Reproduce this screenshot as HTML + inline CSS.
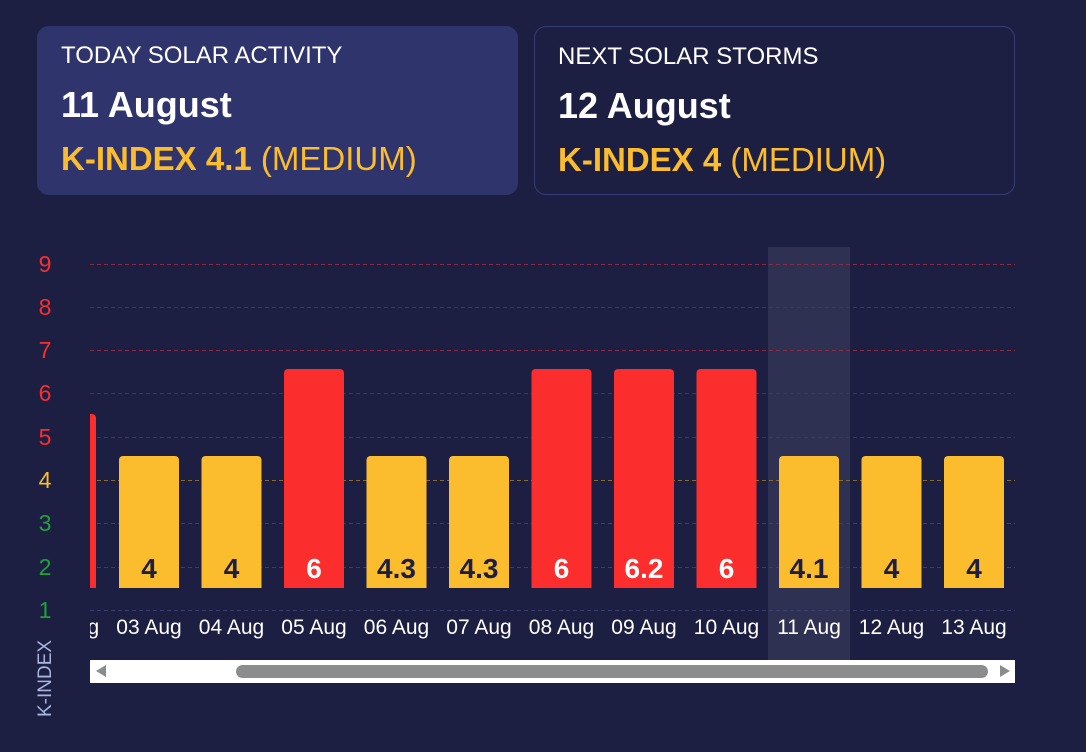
<!DOCTYPE html>
<html><head><meta charset="utf-8"><style>
body{margin:0;width:1086px;height:752px;background:#1d1f42;font-family:"Liberation Sans",Arial,sans-serif;overflow:hidden;position:relative}
.card{position:absolute;top:26px;width:481px;height:169px;border-radius:12px;box-sizing:border-box}
.c1{left:37px;background:#2f346c}
.c2{left:534px;width:481px;border:1px solid #363b74}
.t{position:absolute;left:24px;top:16px;color:#fff;font-size:24px;line-height:28px}
.d{position:absolute;left:24px;top:58px;color:#fff;font-size:36px;line-height:42px;font-weight:bold}
.k{position:absolute;left:24px;top:113px;color:#fbbd2e;font-size:33px;line-height:40px}
.k b{font-weight:bold}
</style></head><body>
<div class="card c1"><div class="t">TODAY SOLAR ACTIVITY</div><div class="d">11 August</div><div class="k"><b>K-INDEX 4.1</b> (MEDIUM)</div></div>
<div class="card c2"><div class="t" style="left:23px">NEXT SOLAR STORMS</div><div class="d" style="left:23px">12 August</div><div class="k" style="left:23px"><b>K-INDEX 4</b> (MEDIUM)</div></div>
<svg width="1086" height="752" style="position:absolute;left:0;top:0" font-family="Liberation Sans,Arial,sans-serif">
<defs><clipPath id="cp"><rect x="90" y="0" width="925" height="752"/></clipPath></defs>
<rect x="768" y="247" width="82" height="413" fill="#2e3152"/>
<g stroke-width="1" stroke-dasharray="4,3">
<line x1="90" x2="1015" y1="264.5" y2="264.5" stroke="#8a2a45"/>
<line x1="90" x2="1015" y1="307.5" y2="307.5" stroke="#5a2a55"/>
<line x1="90" x2="1015" y1="350.5" y2="350.5" stroke="#8a2a45"/>
<line x1="90" x2="1015" y1="393.5" y2="393.5" stroke="#5a2a55"/>
<line x1="90" x2="1015" y1="437.5" y2="437.5" stroke="#5a2a55"/>
<line x1="90" x2="1015" y1="480.5" y2="480.5" stroke="#8a6a30"/>
<line x1="90" x2="1015" y1="523.5" y2="523.5" stroke="#3a3f72"/>
<line x1="90" x2="1015" y1="567.5" y2="567.5" stroke="#3a3f72"/>
<line x1="90" x2="1015" y1="610.5" y2="610.5" stroke="#3a3f72"/>
</g>
<g font-size="23" text-anchor="middle">
<text x="45" y="272" fill="#fc2d2d">9</text><text x="45" y="315" fill="#fc2d2d">8</text><text x="45" y="358" fill="#fc2d2d">7</text><text x="45" y="401" fill="#fc2d2d">6</text><text x="45" y="445" fill="#fc2d2d">5</text><text x="45" y="488" fill="#fbbd2e">4</text><text x="45" y="531" fill="#1ea23a">3</text><text x="45" y="575" fill="#1ea23a">2</text><text x="45" y="618" fill="#1ea23a">1</text>
</g>
<text transform="translate(51,717) rotate(-90)" font-size="19" fill="#aab4dd">K-INDEX</text>
<g clip-path="url(#cp)">
<path d="M60 414 h32 a4 4 0 0 1 4 4 V588 H60Z" fill="#fc2d2d"/>
<text x="66.5" y="634" text-anchor="middle" font-size="21" fill="#fff">02 Aug</text>
</g>
<g id="bars"></g>
<rect x="90" y="660" width="925" height="23" fill="#fff"/>
<rect x="236" y="665" width="752" height="13" rx="6.5" fill="#8c8c8c"/>
<path d="M96 671 l10 -6 v12z" fill="#8c8c8c"/>
<path d="M1010 671 l-10 -6 v12z" fill="#8c8c8c"/>
</svg>
<script>
var d=[["03",4,0],["04",4,0],["05",6,1],["06","4.3",0],["07","4.3",0],["08",6,1],["09","6.2",1],["10",6,1],["11","4.1",0],["12",4,0],["13",4,0]];
var s="";
d.forEach(function(v,i){var c=149+i*82.5,x=c-30,top=v[2]?369:456;var col=v[2]?"#fc2d2d":"#fbbd2e";
s+='<path d="M'+x+' '+(top+4)+' a4 4 0 0 1 4 -4 h52 a4 4 0 0 1 4 4 V588 H'+x+'Z" fill="'+col+'"/>';
s+='<text x="'+c+'" y="578" text-anchor="middle" font-size="28" font-weight="bold" fill="'+(v[2]?"#fff":"#1d1f42")+'">'+v[1]+'</text>';
s+='<text x="'+c+'" y="634" text-anchor="middle" font-size="21" fill="#fff">'+v[0]+' Aug</text>';});
document.getElementById("bars").innerHTML=s;
</script>
</body></html>
